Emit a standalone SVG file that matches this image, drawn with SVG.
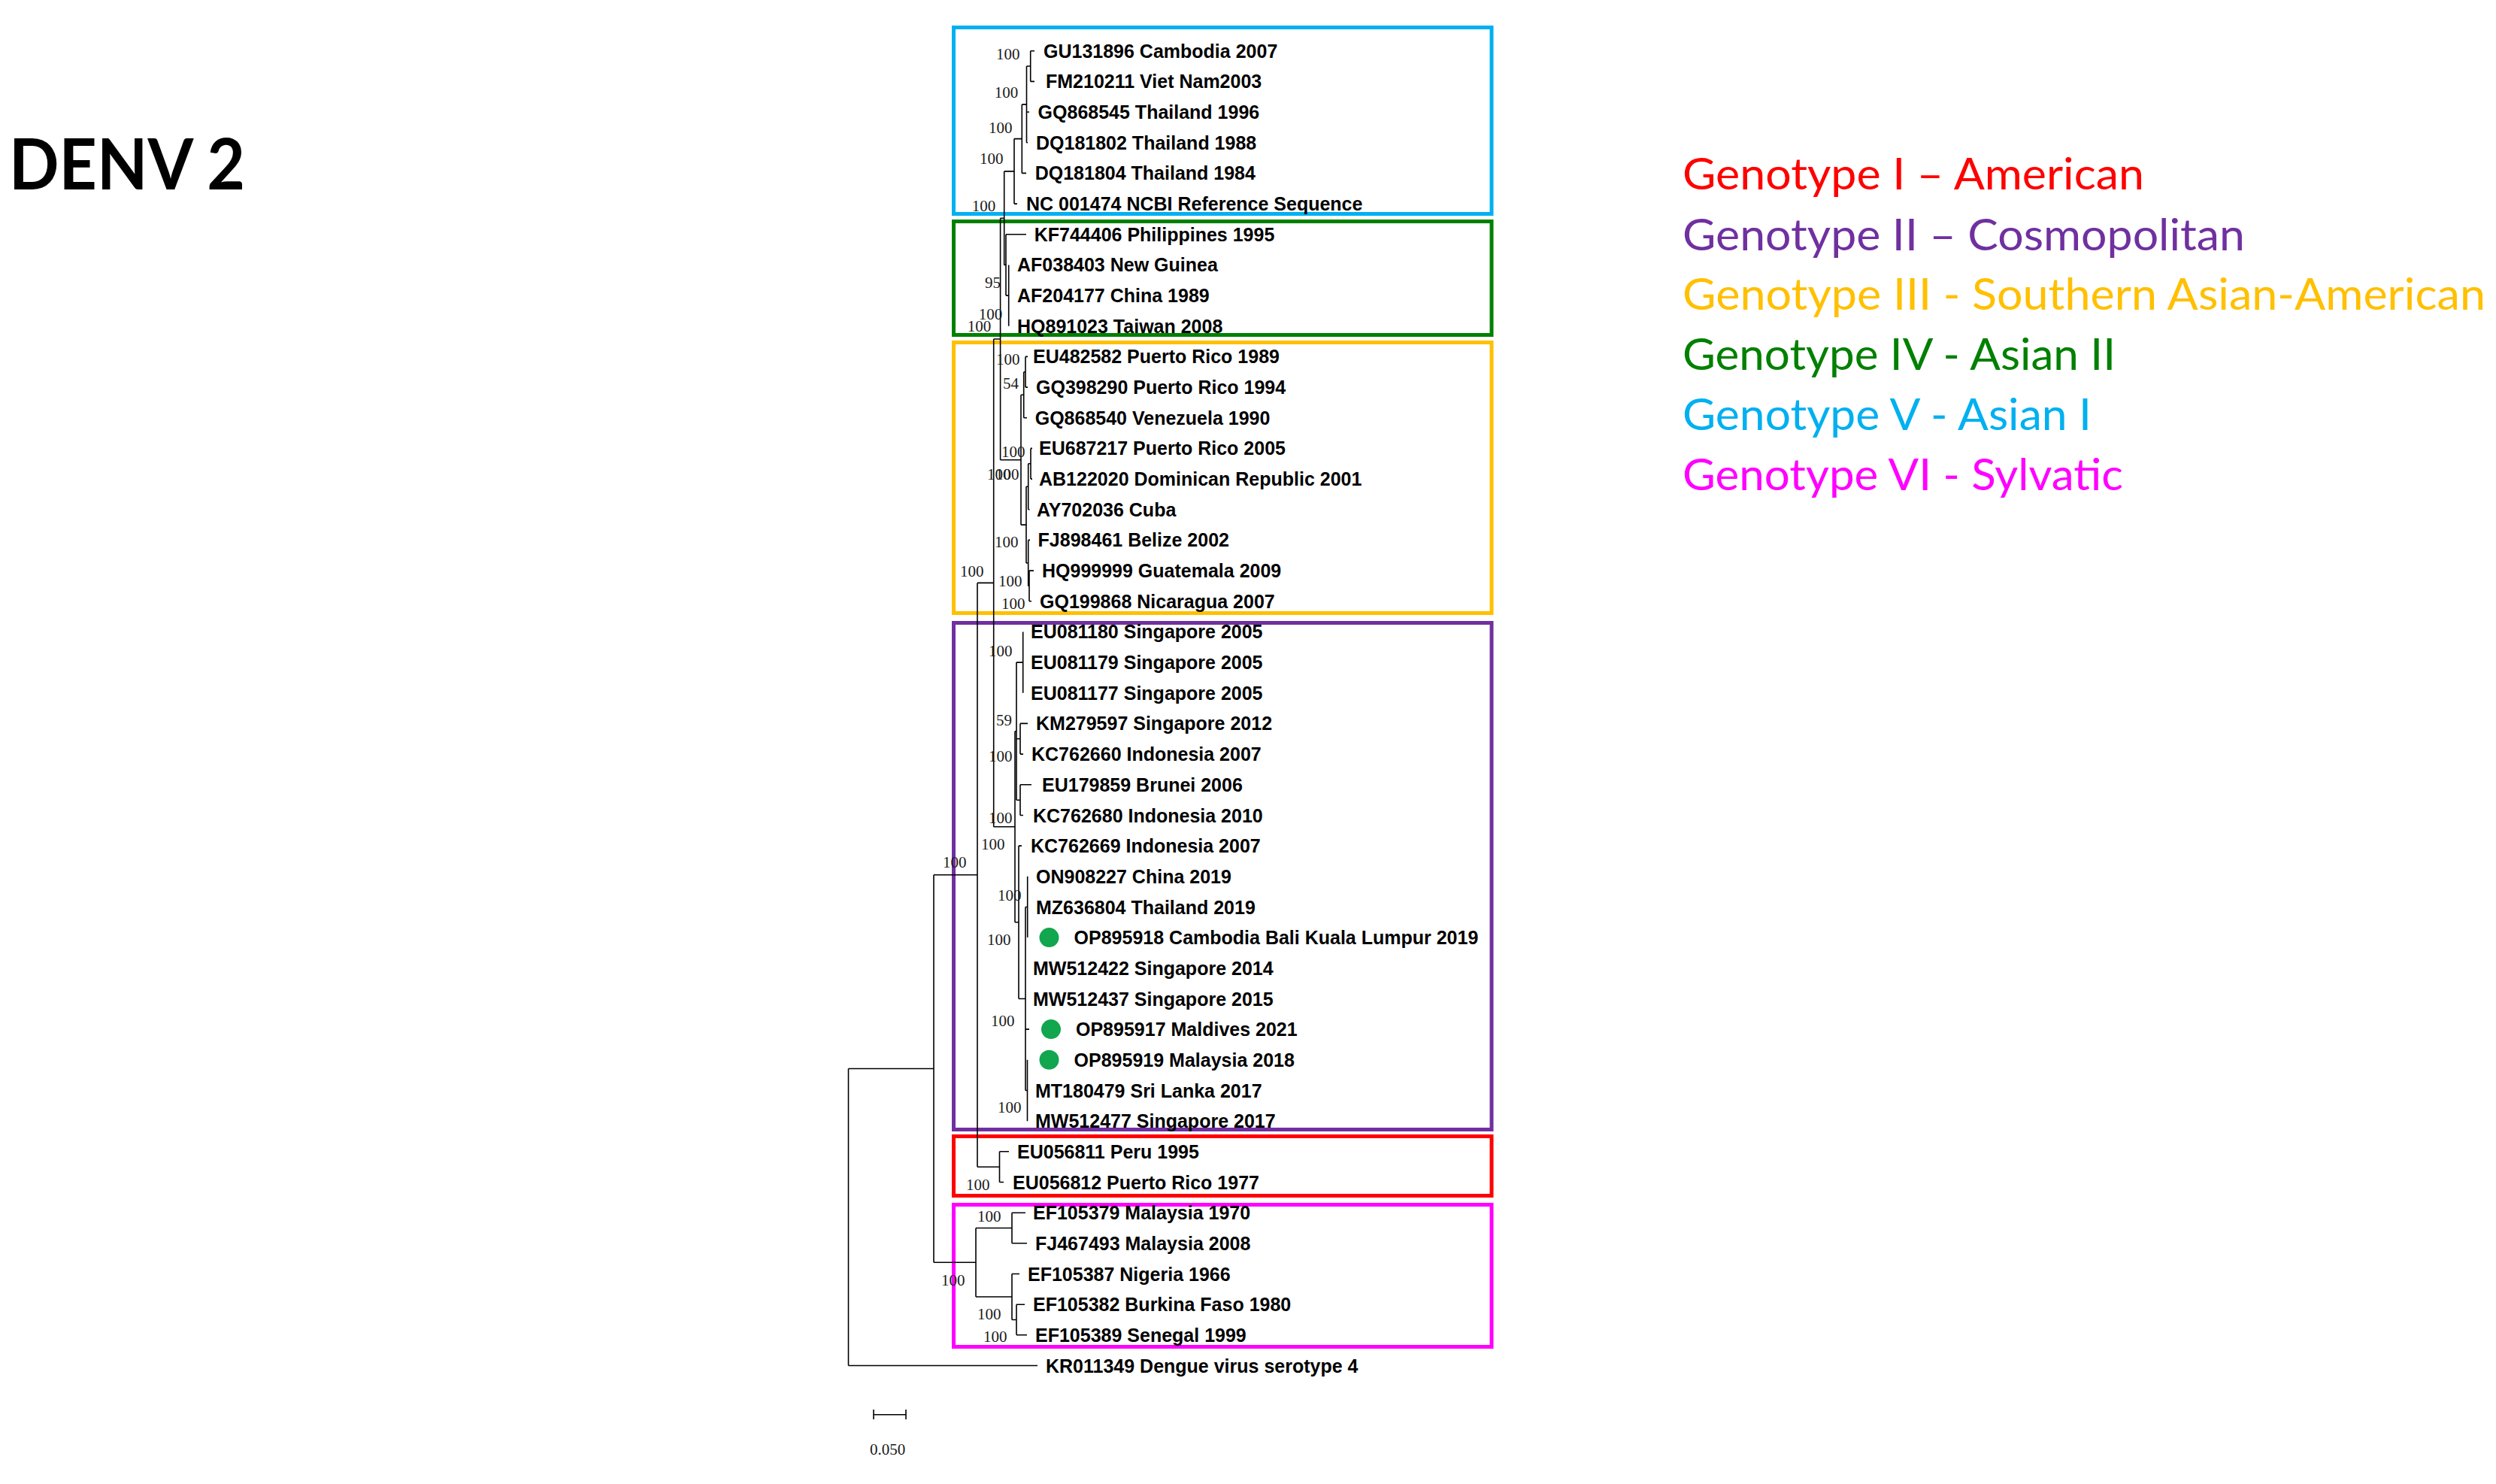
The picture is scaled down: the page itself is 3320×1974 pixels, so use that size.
<svg xmlns="http://www.w3.org/2000/svg" width="3320" height="1974" viewBox="0 0 3320 1974">
<style>
.leaf{font-family:"Liberation Sans",Arial,sans-serif;font-weight:bold;font-size:25px;fill:#000}
.bs{font-family:"Liberation Serif","Times New Roman",serif;font-size:21px;fill:#1a1a1a}
.br{fill:none;stroke:#000;stroke-width:1.6}
.box{fill:none;stroke-width:5}
.leg{font-family:Lato,"Open Sans",sans-serif;font-size:58px}
.dot{fill:#12a64e}
</style>
<rect width="3320" height="1974" fill="#fff"/>
<g id="title"><text x="12" y="252" font-family="Lato,'Open Sans',sans-serif" font-weight="bold" font-size="93" textLength="314" lengthAdjust="spacingAndGlyphs" fill="#000">DENV 2</text></g>
<g id="legend">
<text class="leg" x="2238" y="252" fill="#ff0000" textLength="614" lengthAdjust="spacingAndGlyphs">Genotype I – American</text>
<text class="leg" x="2238" y="333" fill="#7030a0" textLength="748" lengthAdjust="spacingAndGlyphs">Genotype II – Cosmopolitan</text>
<text class="leg" x="2238" y="412" fill="#ffc000" textLength="1068" lengthAdjust="spacingAndGlyphs">Genotype III - Southern Asian-American</text>
<text class="leg" x="2238" y="492" fill="#008000" textLength="576" lengthAdjust="spacingAndGlyphs">Genotype IV - Asian II</text>
<text class="leg" x="2238" y="572" fill="#00b0f0" textLength="544" lengthAdjust="spacingAndGlyphs">Genotype V - Asian I</text>
<text class="leg" x="2238" y="652" fill="#ff00ff" textLength="586" lengthAdjust="spacingAndGlyphs">Genotype VI - Sylvatic</text>
</g>
<g id="clade-boxes">
<rect id="box-V" class="box" stroke="#00b0f0" x="1268.5" y="36.5" width="715.5" height="248"/>
<rect id="box-IV" class="box" stroke="#008000" x="1268.5" y="294.5" width="715.5" height="151"/>
<rect id="box-III" class="box" stroke="#ffc000" x="1268.5" y="455.5" width="715.5" height="360"/>
<rect id="box-II" class="box" stroke="#7030a0" x="1268.5" y="828.5" width="715.5" height="674"/>
<rect id="box-I" class="box" stroke="#ff0000" x="1268.5" y="1511.5" width="715.5" height="79"/>
<rect id="box-VI" class="box" stroke="#ff00ff" x="1268.5" y="1602.5" width="715.5" height="189"/>
</g>
<g id="connectors">
<path class="br" d="M1128.5 1421.5V1816.5M1128.5 1421.5H1242M1128.5 1816.5H1380
M1242 1163.8V1679.3M1242 1163.8H1300M1242 1679.3H1298
M1300 775.4V1552.2M1300 775.4H1321.7M1300 1552.2H1329.5
M1329.5 1531.8V1572.5M1329.5 1531.8H1342M1329.5 1572.5H1335
M1298 1633.5V1725M1298 1633.5H1346M1298 1725H1346
M1346 1613.2V1653.8M1346 1613.2H1364M1346 1653.8H1366
M1346 1694.5V1755.5M1346 1694.5H1356M1346 1755.5H1352
M1352 1735.2V1775.8M1352 1735.2H1363M1352 1775.8H1366
M1321.7 451V1099.8M1321.7 451H1330.6M1321.7 1099.8H1350
M1330.6 290.2V611.7M1330.6 290.2H1335.7M1330.6 611.7H1358
M1335.7 227.9V352.4M1335.7 227.9H1349M1335.7 352.4H1338
M1349 184.6V271.1M1349 184.6H1359.3M1349 271.1H1353
M1359.3 138.9V230.4M1359.3 138.9H1365.5M1359.3 230.4H1365
M1365.5 88V189.7M1365.5 88H1370.7M1365.5 149H1369M1365.5 189.7H1367
M1370.7 67.7V108.4M1370.7 67.7H1376M1370.7 108.4H1376
M1338 311.7V393.1M1338 311.7H1365M1338 393.1H1341.7
M1341.7 352.4V433.7
M1358 525.3V698.1M1358 525.3H1361.7M1358 698.1H1365
M1361.7 494.8V555.7M1361.7 494.8H1364M1361.7 555.7H1366
M1364 474.4V515.1M1364 474.4H1367M1364 515.1H1367
M1365 647.3V749M1365 647.3H1367.7M1365 749H1367.7
M1367.7 616.8V677.8M1367.7 616.8H1371M1367.7 677.8H1369.5
M1371 596.4V637.1M1371 596.4H1373M1371 637.1H1373
M1367.7 718.4V779.5M1367.7 718.4H1370M1367.7 779.5H1369
M1369 759.1V799.8M1369 759.1H1375M1369 799.8H1372
M1350 972.7V1226.8M1350 972.7H1352M1350 1226.8H1355
M1352 881.1V1064.2M1352 881.1H1360.7M1352 982.8H1357M1352 1064.2H1357
M1360.7 840.4V921.8
M1357 962.4V1003.1M1357 962.4H1367M1357 1003.1H1361
M1357 1043.8V1084.5M1357 1043.8H1372M1357 1084.5H1361
M1355 1125.1V1328.5M1355 1125.1H1359M1355 1328.5H1364
M1364 1206.5V1450.5M1364 1206.5H1366.7M1364 1369.1H1369M1364 1450.5H1366.5
M1366.7 1165.8V1247.1
M1366.5 1409.8V1491.2"/>
<path id="scale-bar" class="br" d="M1162 1881.7H1205M1162 1875V1888M1205 1875V1888"/>
</g>
<g id="bootstrap">
<text class="bs" x="1325" y="79">100</text>
<text class="bs" x="1322.7" y="130">100</text>
<text class="bs" x="1315" y="176.7">100</text>
<text class="bs" x="1303" y="218">100</text>
<text class="bs" x="1292.7" y="280.7">100</text>
<text class="bs" x="1310" y="383">95</text>
<text class="bs" x="1301.7" y="425">100</text>
<text class="bs" x="1286.7" y="441">100</text>
<text class="bs" x="1325" y="485">100</text>
<text class="bs" x="1334" y="516.7">54</text>
<text class="bs" x="1332" y="608">100</text>
<text class="bs" x="1313" y="638">100</text>
<text class="bs" x="1324" y="638">100</text>
<text class="bs" x="1323" y="728">100</text>
<text class="bs" x="1277" y="766.7">100</text>
<text class="bs" x="1328" y="780">100</text>
<text class="bs" x="1332" y="810">100</text>
<text class="bs" x="1315" y="873">100</text>
<text class="bs" x="1325" y="965">59</text>
<text class="bs" x="1315" y="1013">100</text>
<text class="bs" x="1315" y="1095">100</text>
<text class="bs" x="1305" y="1130">100</text>
<text class="bs" x="1254" y="1154">100</text>
<text class="bs" x="1327" y="1198">100</text>
<text class="bs" x="1313" y="1256.7">100</text>
<text class="bs" x="1318" y="1365">100</text>
<text class="bs" x="1327" y="1480">100</text>
<text class="bs" x="1285" y="1583">100</text>
<text class="bs" x="1300" y="1625">100</text>
<text class="bs" x="1252" y="1710">100</text>
<text class="bs" x="1300" y="1755">100</text>
<text class="bs" x="1308" y="1785">100</text>
<text class="bs" x="1157" y="1935" font-size="22">0.050</text>
</g>
<g id="leaves">
<g id="GU131896"><text class="leaf" x="1388" y="76.7">GU131896 Cambodia 2007</text></g>
<g id="FM210211"><text class="leaf" x="1391" y="117.4">FM210211 Viet Nam2003</text></g>
<g id="GQ868545"><text class="leaf" x="1380.6" y="158">GQ868545 Thailand 1996</text></g>
<g id="DQ181802"><text class="leaf" x="1378" y="198.7">DQ181802 Thailand 1988</text></g>
<g id="DQ181804"><text class="leaf" x="1376.7" y="239.4">DQ181804 Thailand 1984</text></g>
<g id="NC001474"><text class="leaf" x="1365" y="280.1">NC 001474 NCBI Reference Sequence</text></g>
<g id="KF744406"><text class="leaf" x="1375.7" y="320.7">KF744406 Philippines 1995</text></g>
<g id="AF038403"><text class="leaf" x="1353" y="361.4">AF038403 New Guinea</text></g>
<g id="AF204177"><text class="leaf" x="1353" y="402.1">AF204177 China 1989</text></g>
<g id="HQ891023"><text class="leaf" x="1353" y="442.7">HQ891023 Taiwan 2008</text></g>
<g id="EU482582"><text class="leaf" x="1374" y="483.4">EU482582 Puerto Rico 1989</text></g>
<g id="GQ398290"><text class="leaf" x="1378" y="524.1">GQ398290 Puerto Rico 1994</text></g>
<g id="GQ868540"><text class="leaf" x="1376.7" y="564.7">GQ868540 Venezuela 1990</text></g>
<g id="EU687217"><text class="leaf" x="1382" y="605.4">EU687217 Puerto Rico 2005</text></g>
<g id="AB122020"><text class="leaf" x="1382" y="646.1">AB122020 Dominican Republic 2001</text></g>
<g id="AY702036"><text class="leaf" x="1379" y="686.8">AY702036 Cuba</text></g>
<g id="FJ898461"><text class="leaf" x="1380.6" y="727.4">FJ898461 Belize 2002</text></g>
<g id="HQ999999"><text class="leaf" x="1386" y="768.1">HQ999999 Guatemala 2009</text></g>
<g id="GQ199868"><text class="leaf" x="1383" y="808.8">GQ199868 Nicaragua 2007</text></g>
<g id="EU081180"><text class="leaf" x="1371" y="849.4">EU081180 Singapore 2005</text></g>
<g id="EU081179"><text class="leaf" x="1371" y="890.1">EU081179 Singapore 2005</text></g>
<g id="EU081177"><text class="leaf" x="1371" y="930.8">EU081177 Singapore 2005</text></g>
<g id="KM279597"><text class="leaf" x="1378" y="971.4">KM279597 Singapore 2012</text></g>
<g id="KC762660"><text class="leaf" x="1372" y="1012.1">KC762660 Indonesia 2007</text></g>
<g id="EU179859"><text class="leaf" x="1386" y="1052.8">EU179859 Brunei 2006</text></g>
<g id="KC762680"><text class="leaf" x="1374" y="1093.5">KC762680 Indonesia 2010</text></g>
<g id="KC762669"><text class="leaf" x="1371" y="1134.1">KC762669 Indonesia 2007</text></g>
<g id="ON908227"><text class="leaf" x="1378" y="1174.8">ON908227 China 2019</text></g>
<g id="MZ636804"><text class="leaf" x="1378" y="1215.5">MZ636804 Thailand 2019</text></g>
<g id="OP895918"><circle class="dot" cx="1395.5" cy="1247.1" r="13"/><text class="leaf" x="1428.6" y="1256.1">OP895918 Cambodia Bali Kuala Lumpur 2019</text></g>
<g id="MW512422"><text class="leaf" x="1374" y="1296.8">MW512422 Singapore 2014</text></g>
<g id="MW512437"><text class="leaf" x="1374" y="1337.5">MW512437 Singapore 2015</text></g>
<g id="OP895917"><circle class="dot" cx="1398" cy="1369.1" r="13"/><text class="leaf" x="1431" y="1378.1">OP895917 Maldives 2021</text></g>
<g id="OP895919"><circle class="dot" cx="1395.5" cy="1409.8" r="13"/><text class="leaf" x="1428.6" y="1418.8">OP895919 Malaysia 2018</text></g>
<g id="MT180479"><text class="leaf" x="1377" y="1459.5">MT180479 Sri Lanka 2017</text></g>
<g id="MW512477"><text class="leaf" x="1377" y="1500.2">MW512477 Singapore 2017</text></g>
<g id="EU056811"><text class="leaf" x="1353" y="1540.8">EU056811 Peru 1995</text></g>
<g id="EU056812"><text class="leaf" x="1347" y="1581.5">EU056812 Puerto Rico 1977</text></g>
<g id="EF105379"><text class="leaf" x="1374" y="1622.2">EF105379 Malaysia 1970</text></g>
<g id="FJ467493"><text class="leaf" x="1377" y="1662.8">FJ467493 Malaysia 2008</text></g>
<g id="EF105387"><text class="leaf" x="1367" y="1703.5">EF105387 Nigeria 1966</text></g>
<g id="EF105382"><text class="leaf" x="1374" y="1744.2">EF105382 Burkina Faso 1980</text></g>
<g id="EF105389"><text class="leaf" x="1377" y="1784.8">EF105389 Senegal 1999</text></g>
<g id="KR011349"><text class="leaf" x="1391" y="1825.5">KR011349 Dengue virus serotype 4</text></g>
</g>
</svg>
